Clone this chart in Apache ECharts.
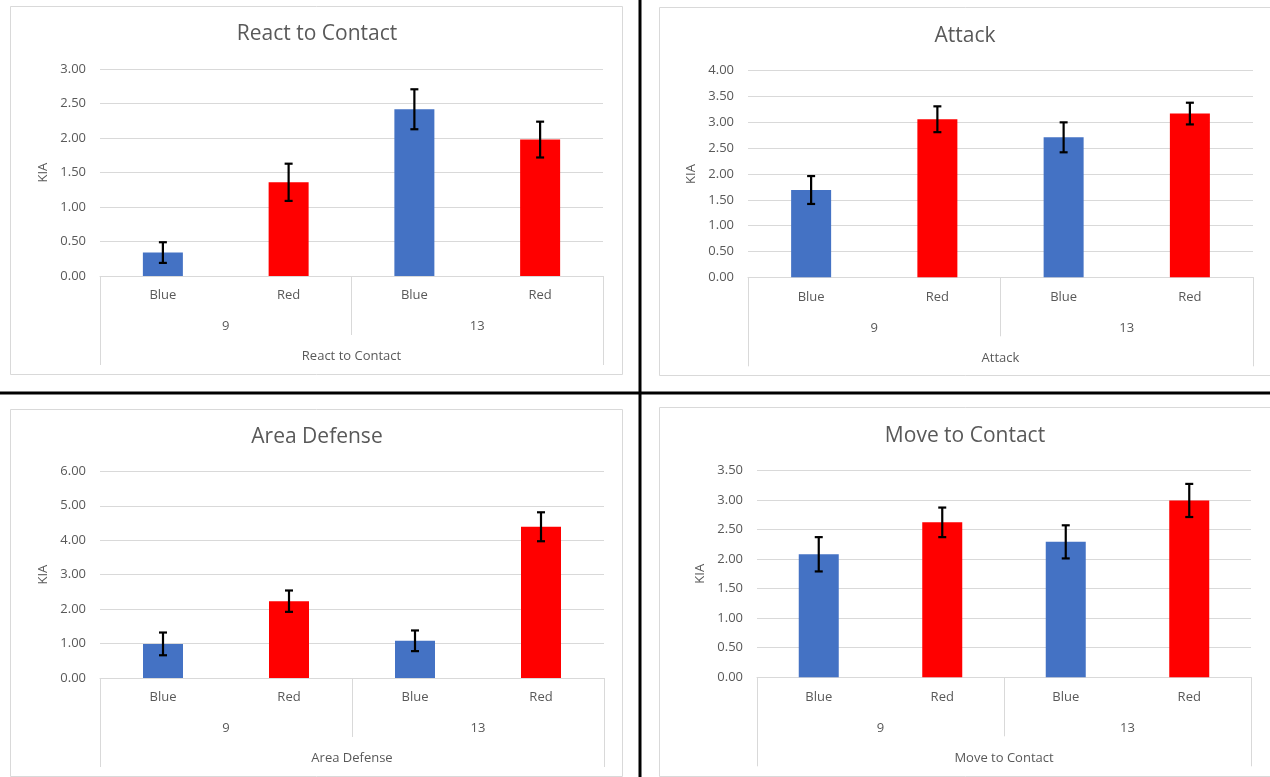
<!DOCTYPE html>
<html>
<head>
<meta charset="utf-8">
<script src="https://cdn.jsdelivr.net/npm/echarts@6/dist/echarts.min.js"></script>
<style>
  html, body { margin: 0; padding: 0; background: #fff; }
  #main { width: 1270px; height: 777px; }
</style>
</head>
<body>
<div id="main"></div>
<script>
// data
const categories = ["Blue", "Red", "Blue", "Red"];
const groups = ["9", "13"];
const titles = ["React to Contact", "Attack", "Area Defense", "Move to Contact"];

const reactMeans = [0.34, 1.36, 2.42, 1.98];
const reactErr = [0.15, 0.27, 0.29, 0.26];
const attackMeans = [1.69, 3.06, 2.71, 3.17];
const attackErr = [0.27, 0.25, 0.29, 0.21];
const areaMeans = [0.99, 2.23, 1.08, 4.39];
const areaErr = [0.33, 0.31, 0.30, 0.42];
const moveMeans = [2.08, 2.62, 2.29, 2.99];
const moveErr = [0.29, 0.25, 0.28, 0.28];

const yMax = [3, 4, 6, 3.5];
const yStep = [0.5, 0.5, 1, 0.5];

const means = [reactMeans, attackMeans, areaMeans, moveMeans];
const errs = [reactErr, attackErr, areaErr, moveErr];

// layout of the four panels
const grids = [
  { left: 100, top: 69.3, width: 503, height: 206.7 },
  { left: 748, top: 70.7, width: 505, height: 206.6 },
  { left: 100, top: 471.3, width: 504, height: 206.7 },
  { left: 757, top: 470.3, width: 494, height: 207 }
];
const frames = [
  [10, 6, 612, 368],
  [659, 7, 640, 368],
  [10, 409, 612, 367],
  [659, 407, 640, 369]
];
// title centres
const titlePos = [[317, 34], [965, 36], [317, 437], [965, 436]];

const BLUE = "#4472C4";
const RED = "#FF0000";
const GRID = "#d9d9d9";
const TEXT = "#595959";
const FONT = "Open Sans";

const option = {
  backgroundColor: "#fff",
  animation: false,
  textStyle: { fontFamily: FONT },
  grid: grids,
  xAxis: [],
  yAxis: [],
  series: [],
  graphic: []
};

for (let i = 0; i < 4; i++) {
  // level 1: Blue / Red
  option.xAxis.push({
    type: "category",
    gridIndex: i,
    position: "bottom",
    offset: 0,
    data: categories,
    axisLine: { lineStyle: { color: GRID } },
    axisTick: { show: false },
    axisLabel: { margin: 13, color: TEXT, fontSize: 13, fontFamily: FONT }
  });
  // level 2: 9 / 13
  option.xAxis.push({
    type: "category",
    gridIndex: i,
    position: "bottom",
    offset: 0,
    data: groups,
    axisLine: { show: false },
    axisTick: { show: true, interval: 0, length: 59, lineStyle: { color: GRID } },
    axisLabel: { margin: 44, color: TEXT, fontSize: 13, fontFamily: FONT }
  });
  // level 3: chart name
  option.xAxis.push({
    type: "category",
    gridIndex: i,
    position: "bottom",
    offset: 0,
    data: [titles[i]],
    axisLine: { show: false },
    axisTick: { show: true, interval: 0, length: 89, lineStyle: { color: GRID } },
    axisLabel: { margin: 74, color: TEXT, fontSize: 13, fontFamily: FONT }
  });

  option.yAxis.push({
    type: "value",
    gridIndex: i,
    min: 0,
    max: yMax[i],
    interval: yStep[i],
    name: "KIA",
    nameLocation: "middle",
    nameGap: 50,
    nameTextStyle: { color: TEXT, fontSize: 13, fontFamily: FONT },
    axisLine: { show: false },
    axisTick: { show: false },
    axisLabel: {
      margin: 14,
      color: TEXT,
      fontSize: 13,
      fontFamily: FONT,
      formatter: v => v.toFixed(2)
    },
    splitLine: { lineStyle: { color: GRID, width: 1 } }
  });

  option.series.push({
    type: "bar",
    xAxisIndex: i * 3,
    yAxisIndex: i,
    barWidth: 40,
    data: means[i],
    itemStyle: {
      color: p => (categories[p.dataIndex] === "Blue" ? BLUE : RED)
    }
  });

  // error bars
  option.series.push({
    type: "custom",
    xAxisIndex: i * 3,
    yAxisIndex: i,
    z: 5,
    encode: { x: 0, y: [1, 2] },
    data: means[i].map((m, k) => [k, m - errs[i][k], m + errs[i][k]]),
    renderItem: function(params, api) {
      const x = api.value(0);
      const top = api.coord([x, api.value(2)]);
      const bot = api.coord([x, api.value(1)]);
      const w = 4;
      const style = { stroke: "#000", lineWidth: 2.2 };
      return {
        type: "group",
        children: [
          { type: "line", shape: { x1: top[0], y1: top[1], x2: bot[0], y2: bot[1] }, style },
          { type: "line", shape: { x1: top[0] - w, y1: top[1], x2: top[0] + w, y2: top[1] }, style },
          { type: "line", shape: { x1: bot[0] - w, y1: bot[1], x2: bot[0] + w, y2: bot[1] }, style }
        ]
      };
    }
  });

  // panel title
  option.graphic.push({
    type: "text",
    silent: true,
    x: titlePos[i][0],
    y: titlePos[i][1],
    style: {
      text: titles[i],
      fill: TEXT,
      font: "21px 'Open Sans'",
      textAlign: "center",
      textVerticalAlign: "middle"
    }
  });

  // panel frame
  option.graphic.push({
    type: "rect",
    z: -10,
    silent: true,
    shape: { x: frames[i][0] + 0.5, y: frames[i][1] + 0.5, width: frames[i][2], height: frames[i][3] },
    style: { fill: "none", stroke: GRID, lineWidth: 1 }
  });
}

// black dividers between the panels
option.graphic.push(
  {
    type: "line",
    silent: true,
    shape: { x1: 640, y1: 0, x2: 640, y2: 777 },
    style: { stroke: "#000", lineWidth: 3 }
  },
  {
    type: "line",
    silent: true,
    shape: { x1: 0, y1: 393, x2: 1270, y2: 393 },
    style: { stroke: "#000", lineWidth: 3 }
  }
);

const myChart = echarts.init(document.getElementById("main"));
myChart.setOption(option);
</script>
</body>
</html>
